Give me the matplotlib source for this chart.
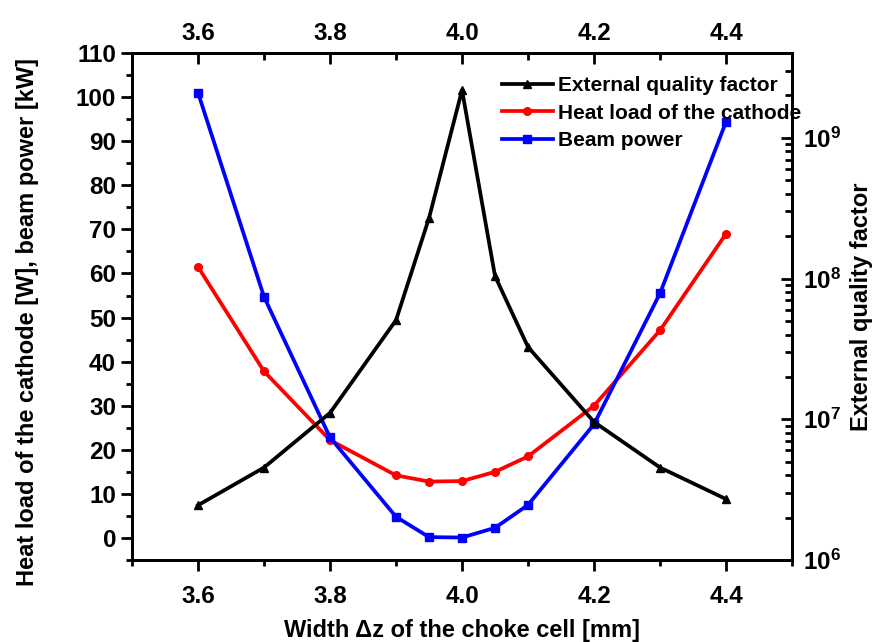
import matplotlib
matplotlib.use("Agg")
import matplotlib.pyplot as plt
from matplotlib.ticker import MultipleLocator, LogLocator, NullFormatter

# Datos
ancho_dz = [3.6, 3.7, 3.8, 3.9, 3.95, 4.0, 4.05, 4.1, 4.2, 4.3, 4.4]
q_externo = [2.45e6, 4.54e6, 1.11e7, 5.06e7, 2.69e8, 2.18e9, 1.04e8, 3.26e7, 9.57e6, 4.54e6, 2.71e6]
carga_catodo = [61.5, 37.8, 22.2, 14.2, 12.8, 12.9, 15.0, 18.5, 30.0, 47.1, 69.0]
potencia_haz = [101.0, 54.7, 22.8, 4.8, 0.2, 0.1, 2.3, 7.5, 25.8, 55.5, 94.4]

plt.rcParams['font.family'] = ['Liberation Sans', 'DejaVu Sans']
plt.rcParams['font.weight'] = 'bold'
plt.rcParams['mathtext.fontset'] = 'custom'
plt.rcParams['mathtext.rm'] = 'Liberation Sans:bold'
plt.rcParams['mathtext.it'] = 'Liberation Sans:bold'
plt.rcParams['mathtext.bf'] = 'Liberation Sans:bold'
plt.rcParams['axes.linewidth'] = 2.0

TAM_TICKS = 17.5
TAM_ETIQ = 17

fig = plt.figure(figsize=(8.72, 6.42), dpi=100)
ax = fig.add_axes([0.1514, 0.1277, 0.7569, 0.7897])
ax2 = ax.twinx()

l2, = ax.plot(ancho_dz, carga_catodo, color='red', lw=2.7, marker='o', ms=5.5,
              label='Heat load of the cathode')
l3, = ax.plot(ancho_dz, potencia_haz, color='blue', lw=2.7, marker='s', ms=5.5,
              label='Beam power')
l1, = ax2.plot(ancho_dz, q_externo, color='black', lw=2.7, marker='^', ms=6,
               label='External quality factor')

ax.set_xlim(3.5, 4.5)
ax.set_ylim(-5, 110)
ax.xaxis.set_major_locator(MultipleLocator(0.2))
ax.xaxis.set_minor_locator(MultipleLocator(0.1))
ax.yaxis.set_major_locator(MultipleLocator(10))
ax.yaxis.set_minor_locator(MultipleLocator(5))
ax.tick_params(which='major', direction='out', length=8, width=2, labelsize=TAM_TICKS)
ax.tick_params(which='minor', direction='out', length=4, width=2)
ax.tick_params(axis='x', pad=10)

top = ax.secondary_xaxis('top')
top.xaxis.set_major_locator(MultipleLocator(0.2))
top.xaxis.set_minor_locator(MultipleLocator(0.1))
top.tick_params(which='major', direction='in', length=8, width=2, labelsize=TAM_TICKS, pad=6)
top.tick_params(which='minor', direction='in', length=5, width=2)

ax2.set_yscale('log')
ax2.set_ylim(1e6, 4e9)
ax2.yaxis.set_major_locator(LogLocator(base=10, numticks=10))
ax2.yaxis.set_minor_locator(LogLocator(base=10, subs=range(2, 10), numticks=10))
ax2.yaxis.set_minor_formatter(NullFormatter())
ax2.tick_params(which='major', direction='in', length=8, width=2, labelsize=TAM_TICKS, pad=8)
ax2.tick_params(which='minor', direction='in', length=5, width=2)

ax.set_xlabel('Width \u0394z of the choke cell [mm]', fontsize=TAM_ETIQ, fontweight='bold', labelpad=8)
ax.set_ylabel('Heat load of the cathode [W], beam power [kW]', fontsize=TAM_ETIQ, fontweight='bold')
ax.yaxis.set_label_coords(-0.141, 0.47)
ax2.set_ylabel('External quality factor', fontsize=TAM_ETIQ, fontweight='bold', labelpad=6)

ax2.legend(handles=[l1, l2, l3], loc='upper left', bbox_to_anchor=(0.56, 0.955),
           frameon=False, handlelength=2.45, handletextpad=0.25,
           labelspacing=0.42, borderaxespad=0, borderpad=0,
           prop={'weight': 'bold', 'size': 15})

fig.savefig('out.png', dpi=100)
